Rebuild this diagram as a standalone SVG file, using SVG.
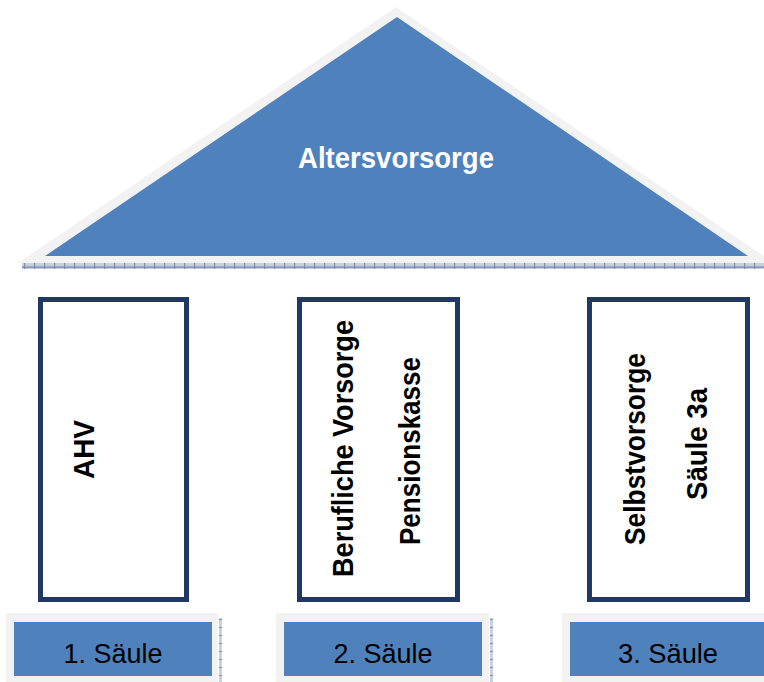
<svg xmlns="http://www.w3.org/2000/svg" width="764" height="682" viewBox="0 0 764 682">
  <defs>
    <pattern id="hatch" x="0" y="0" width="10" height="6" patternUnits="userSpaceOnUse">
      <rect width="10" height="6" fill="#c9d1e0"/>
      <rect x="0" y="2.5" width="10" height="1.2" fill="#6f82a3"/>
      <rect x="4" y="0" width="1.2" height="6" fill="#7d8fae"/>
    </pattern>
    <pattern id="vhatch" x="0" y="0" width="3" height="8" patternUnits="userSpaceOnUse">
      <rect width="3" height="8" fill="#c9d1e0"/>
      <rect x="0" y="3" width="3" height="1" fill="#7d8fae"/>
    </pattern>
    <style>
      .roof-shadow { fill: #f2f2f2; }
      .roof { fill: #4f81bd; }
      .pillar { fill: #ffffff; stroke: #1f3864; stroke-width: 5; }
      .plate { fill: #f2f2f2; }
      .plate-face { fill: #4f81bd; }
      .title { font-family: "Liberation Sans", Arial, sans-serif; font-weight: bold; font-size: 30px; fill: #ffffff; text-anchor: middle; }
      .vlabel { font-family: "Liberation Sans", Arial, sans-serif; font-weight: bold; font-size: 29px; fill: #000000; text-anchor: middle; }
      .plabel { font-family: "Liberation Sans", Arial, sans-serif; font-size: 28px; fill: #000000; text-anchor: middle; }
    </style>
  </defs>

  <rect width="764" height="682" fill="#ffffff"/>

  <!-- roof -->
  <g id="roof">
    <polygon class="roof-shadow" points="18,263 396,7 774,263"/>
    <polygon class="roof" points="45,256 397,17 748,256"/>
    <text class="title" x="396" y="168" textLength="196" lengthAdjust="spacingAndGlyphs">Altersvorsorge</text>
  </g>

  <!-- beam under the roof -->
  <g id="beam">
    <rect x="22" y="263" width="742" height="6" fill="url(#hatch)"/>
  </g>

  <!-- pillars -->
  <g id="pillar-1">
    <rect class="pillar" x="40.5" y="299.5" width="146" height="300"/>
    <text class="vlabel" transform="translate(94,449.5) rotate(-90)" textLength="59" lengthAdjust="spacingAndGlyphs">AHV</text>
  </g>
  <g id="pillar-2">
    <rect class="pillar" x="299.5" y="299.5" width="158" height="300"/>
    <text class="vlabel" transform="translate(353,448.5) rotate(-90)" textLength="257" lengthAdjust="spacingAndGlyphs">Berufliche Vorsorge</text>
    <text class="vlabel" transform="translate(420,451) rotate(-90)" textLength="188" lengthAdjust="spacingAndGlyphs">Pensionskasse</text>
  </g>
  <g id="pillar-3">
    <rect class="pillar" x="589.5" y="299.5" width="158" height="300"/>
    <text class="vlabel" transform="translate(645,449) rotate(-90)" textLength="192" lengthAdjust="spacingAndGlyphs">Selbstvorsorge</text>
    <text class="vlabel" transform="translate(707,444) rotate(-90)" textLength="112" lengthAdjust="spacingAndGlyphs">Säule 3a</text>
  </g>

  <!-- base plates -->
  <g id="plate-1">
    <rect class="plate" x="6" y="613" width="212" height="69"/>
    <rect class="plate-face" x="14" y="622" width="198" height="54"/>
    <rect x="219" y="618" width="3" height="64" fill="url(#vhatch)"/>
    <text class="plabel" x="113" y="663" textLength="99" lengthAdjust="spacingAndGlyphs">1. Säule</text>
  </g>
  <g id="plate-2">
    <rect class="plate" x="276" y="613" width="213" height="69"/>
    <rect class="plate-face" x="284" y="622" width="198" height="54"/>
    <rect x="490" y="618" width="3" height="64" fill="url(#vhatch)"/>
    <text class="plabel" x="383" y="663" textLength="99" lengthAdjust="spacingAndGlyphs">2. Säule</text>
  </g>
  <g id="plate-3">
    <rect class="plate" x="562" y="613" width="213" height="69"/>
    <rect class="plate-face" x="570" y="622" width="198" height="54"/>
    <text class="plabel" x="668" y="663" textLength="100" lengthAdjust="spacingAndGlyphs">3. Säule</text>
  </g>

  <g id="connectors"></g>
</svg>
